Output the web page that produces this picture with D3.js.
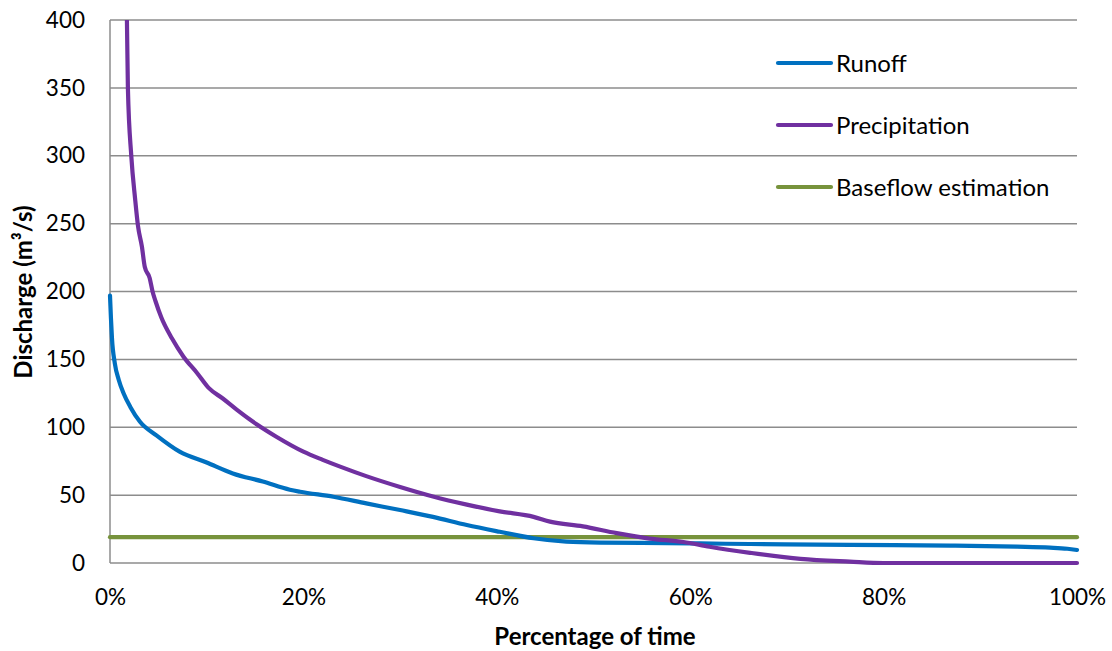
<!DOCTYPE html>
<html><head><meta charset="utf-8">
<script src="https://cdn.jsdelivr.net/npm/d3@7"></script>
<style>body{margin:0;background:#fff;} text{font-family:Lato,"Open Sans",sans-serif;fill:#000;}</style>
</head><body>
<svg id="c" width="1112" height="651"></svg>
<script>
const xTicks = [0, 0.2, 0.4, 0.6, 0.8, 1.0];
const yTicks = [0, 50, 100, 150, 200, 250, 300, 350, 400];

const runoffPct = [0, 0.1, 0.2, 0.5, 0.9, 1.4, 2.1, 3.1, 4.8, 7.2, 10, 12.7, 15.8, 18.6, 19.65, 23.1, 26.5, 30, 33.4, 36.9, 40.3, 43.8, 47.2, 50.7, 55, 61, 66.2, 76.5, 86.9, 93.8, 97.2, 99, 100];
const runoffVal = [197, 180, 166, 147, 135, 125, 115, 104, 94, 82, 74, 66, 60, 54, 52.5, 48.8, 43.9, 39, 34, 28, 23, 18.2, 15.7, 15, 14.8, 14.4, 14, 13.3, 12.8, 12, 11.3, 10.5, 9.6];

const precipPct = [1.6, 1.75, 1.85, 2.2, 2.6, 2.9, 3.3, 3.6, 4.1, 4.4, 4.7, 5.3, 6.4, 7.6, 9, 10.2, 11.7, 13.1, 15.2, 17.2, 20, 22, 23.8, 26.5, 30, 33.4, 36.9, 40.3, 43.8, 45.5, 48.9, 52.4, 55.8, 59.3, 62, 66.2, 71.4, 76.5, 80, 100];
const precipVal = [430, 400, 350, 300, 268, 248, 233, 218, 210, 200, 193, 181, 165.5, 152, 140, 129, 121, 113, 102, 93, 82, 76, 71, 64, 56, 49, 43, 38, 34, 30.5, 27, 22, 18, 15.5, 12, 7.5, 3, 1, 0, 0];

const baseflowPct = [0, 100];
const baseflowVal = [19, 19];

const seriesNames = ["Runoff", "Precipitation", "Baseflow estimation"];
const seriesColors = ["#0070C0", "#7030A0", "#77933C"];

const svg = d3.select("#c");
const L = 110, R = 1077, T = 20, B = 563;
const x = d3.scaleLinear().domain([0, 1]).range([L, R]);
const y = d3.scaleLinear().domain([0, 400]).range([B, T]);

svg.append("g").selectAll("line").data(yTicks).join("line")
  .attr("x1", L).attr("x2", R).attr("y1", d => y(d)).attr("y2", d => y(d))
  .attr("stroke", "#8c8c8c").attr("stroke-width", 1.5);
svg.append("line").attr("x1", L).attr("x2", L).attr("y1", T).attr("y2", B)
  .attr("stroke", "#8c8c8c").attr("stroke-width", 1.5);

const yAx = svg.append("g").attr("transform", `translate(${L},0)`)
  .call(d3.axisLeft(y).tickValues(yTicks).tickSize(0).tickPadding(25));
yAx.select(".domain").remove();
yAx.selectAll("text").attr("font-size", 22.5).attr("font-family", "Lato, sans-serif").attr("fill", "#000");

const xAx = svg.append("g").attr("transform", `translate(0,${B})`)
  .call(d3.axisBottom(x).tickValues(xTicks).tickFormat(d3.format(".0%")).tickSize(0).tickPadding(26));
xAx.select(".domain").remove();
xAx.selectAll("text").attr("font-size", 22.5).attr("font-family", "Lato, sans-serif").attr("fill", "#000");

svg.append("defs").append("clipPath").attr("id", "clip")
  .append("rect").attr("x", L - 5).attr("y", T).attr("width", R - L + 10).attr("height", B - T + 5);

const line = d3.line().curve(d3.curveMonotoneX).x(d => x(d[0] / 100)).y(d => y(d[1]));
const data = [
  d3.zip(runoffPct, runoffVal),
  d3.zip(precipPct, precipVal),
  d3.zip(baseflowPct, baseflowVal)
];
const order = [2, 0, 1];
const g = svg.append("g").attr("clip-path", "url(#clip)");
order.forEach(i => {
  g.append("path").attr("d", line(data[i])).attr("fill", "none")
    .attr("stroke", seriesColors[i]).attr("stroke-width", 4.2)
    .attr("stroke-linejoin", "round").attr("stroke-linecap", "round");
});

const legY = [63, 125, 187];
const leg = svg.append("g");
seriesNames.forEach((n, i) => {
  leg.append("line").attr("x1", 778).attr("x2", 831).attr("y1", legY[i]).attr("y2", legY[i])
    .attr("stroke", seriesColors[i]).attr("stroke-width", 4.2).attr("stroke-linecap", "round");
  leg.append("text").attr("x", 836).attr("y", legY[i] + 8.5).attr("font-size", 24).text(n);
});

svg.append("text").attr("x", 595).attr("y", 645).attr("text-anchor", "middle")
  .attr("font-size", 24).attr("font-weight", "bold").text("Percentage of time");
svg.append("text").attr("transform", "translate(32,292) rotate(-90)").attr("text-anchor", "middle")
  .attr("font-size", 24).attr("font-weight", "bold").text("Discharge (m³/s)");
</script>
</body></html>
